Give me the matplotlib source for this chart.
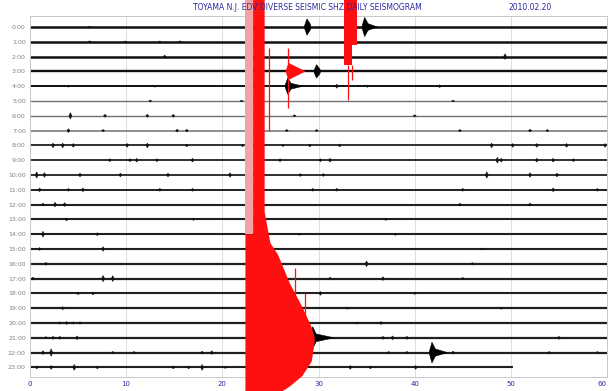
import matplotlib
matplotlib.use("Agg")
import matplotlib.pyplot as plt

# --- helicorder rows (one per hour) ---
hours = list(range(24))
row_labels = [f"{h}:00" for h in hours]
row_end = [60] * 23 + [50.2]
row_lw = [1.8, 1.8, 1.8, 1.7, 1.4, 1.0, 1.0, 1.1, 1.3, 1.3, 1.3, 1.4,
          1.5, 1.5, 1.5, 1.5, 1.6, 1.6, 1.5, 1.6, 1.6, 1.6, 1.6, 1.5]
row_color = ["#101010"] * 5 + ["#707070"] * 3 + ["#202020"] * 16

# small noise blips: row, minute, amplitude (in row units)
blip_row = ([0] * 1 + [1] * 4 + [2] * 2 + [4] * 5 + [5] * 3 + [6] * 6 + [7] * 9 + [8] * 15
            + [9] * 13 + [10] * 11 + [11] * 10 + [12] * 5 + [13] * 3 + [14] * 4 + [15] * 3
            + [16] * 3 + [17] * 6 + [18] * 4 + [19] * 3 + [20] * 6 + [21] * 8 + [22] * 11
            + [23] * 11)
blip_min = [6.2,
            6.2, 13.5, 15.6, 9.9,
            14.0, 49.4,
            31.9, 35.1, 42.6, 4.0, 13.0,
            12.5, 22.0, 44.0,
            4.2, 7.8, 12.2, 14.9, 27.5, 40.0,
            4.0, 7.6, 15.3, 16.3, 26.7, 29.8, 44.7, 52.0, 53.8,
            2.4, 3.4, 4.5, 10.1, 12.2, 16.3, 22.1, 26.3, 29.1, 32.2, 48.0, 50.2, 52.7, 55.8, 59.8,
            8.3, 10.4, 11.1, 13.2, 16.9, 26.0, 30.2, 31.2, 48.6, 49.0, 52.7, 54.4, 56.5,
            0.7, 1.5, 5.2, 9.4, 14.35, 20.8, 28.1, 30.5, 47.5, 52.0, 54.8,
            1.0, 4.0, 5.5, 13.5, 16.9, 29.4, 31.9, 45.0, 54.4, 59.0,
            1.35, 2.6, 3.6, 44.7, 52.0,
            3.8, 17.0, 37.0,
            1.35, 7.0, 28.0, 38.0,
            1.0, 7.6, 47.0,
            1.65, 35.0, 46.0,
            0.3, 7.6, 8.6, 31.2, 36.7, 45.0,
            5.0, 6.55, 30.2, 40.0,
            3.4, 33.0, 49.0,
            3.1, 3.8, 4.5, 5.2, 34.0, 36.5,
            1.65, 2.4, 3.1, 4.9, 36.7, 37.7, 39.2, 55.0,
            1.35, 2.2, 8.6, 10.8, 17.9, 18.9, 37.3, 39.2, 44.0, 54.0, 59.0,
            0.7, 2.2, 4.6, 7.0, 14.9, 16.5, 17.9, 20.3, 33.3, 35.4, 40.1]
blip_amp = [0.06,
            0.07, 0.06, 0.07, 0.06,
            0.1, 0.2,
            0.14, 0.08, 0.1, 0.07, 0.07,
            0.07, 0.06, 0.06,
            0.22, 0.1, 0.1, 0.1, 0.07, 0.07,
            0.13, 0.08, 0.1, 0.1, 0.08, 0.08, 0.08, 0.1, 0.08,
            0.16, 0.16, 0.13, 0.13, 0.16, 0.1, 0.1, 0.08, 0.1, 0.1, 0.16, 0.13, 0.13, 0.13, 0.13,
            0.1, 0.1, 0.13, 0.1, 0.13, 0.1, 0.1, 0.13, 0.2, 0.13, 0.13, 0.13, 0.1,
            0.22, 0.16, 0.13, 0.13, 0.13, 0.16, 0.1, 0.1, 0.22, 0.16, 0.13,
            0.13, 0.1, 0.13, 0.1, 0.1, 0.1, 0.1, 0.1, 0.13, 0.1,
            0.1, 0.16, 0.13, 0.1, 0.1,
            0.1, 0.07, 0.07,
            0.2, 0.1, 0.07, 0.08,
            0.1, 0.16, 0.07,
            0.1, 0.2, 0.08,
            0.1, 0.22, 0.2, 0.1, 0.13, 0.08,
            0.08, 0.1, 0.13, 0.07,
            0.1, 0.07, 0.07,
            0.08, 0.1, 0.08, 0.08, 0.07, 0.1,
            0.08, 0.1, 0.1, 0.13, 0.1, 0.13, 0.1, 0.1,
            0.13, 0.26, 0.08, 0.08, 0.1, 0.13, 0.08, 0.08, 0.1, 0.08, 0.08,
            0.1, 0.13, 0.2, 0.1, 0.1, 0.1, 0.2, 0.07, 0.13, 0.1, 0.13]

# local events recorded in black: row, onset minute, amplitude, coda length (min)
event_row = [0, 0, 3, 4, 21, 22]
event_min = [28.8, 34.8, 29.8, 26.8, 29.4, 41.8]
event_amp = [0.55, 0.65, 0.45, 0.55, 0.75, 0.7]
event_coda = [0.4, 1.3, 0.4, 1.6, 2.2, 1.6]

# large quake drawn in red (envelope in row units, clipped by the page only)
quake_min = [22.4, 23.2, 23.2, 24.4, 24.4, 25.0, 25.8, 27.0, 28.3, 29.3, 29.6]
quake_top = [14.0, 14.0, -2.0, -2.0, 12.5, 14.6, 15.4, 17.3, 18.9, 20.3, 21.0]
quake_bot = [24.8, 24.8, 24.8, 24.8, 24.8, 24.8, 24.8, 24.3, 23.6, 22.6, 21.3]
pink_min = [22.4, 23.2]
pink_top = [-2.0, -2.0]
pink_bot = [14.0, 14.0]

# second red burst near the top right
burst_min = [32.7, 33.5, 33.5, 34.0]
burst_top = [-2.0, -2.0, -2.0, -2.0]
burst_bot = [2.6, 2.6, 1.2, 1.2]

# thin red spikes: minute, top row, bottom row
spike_min = [24.9, 26.8, 33.1, 33.5, 27.6, 28.6]
spike_top = [1.4, 1.4, 2.6, 2.6, 16.3, 18.0]
spike_bot = [7.0, 5.5, 4.9, 3.6, 19.6, 21.5]

# red coda on row 3
coda_row = 3
coda_min = [26.6, 26.9, 28.6]
coda_amp = [0.0, 0.55, 0.0]

title = "TOYAMA N.J. EDV DIVERSE SEISMIC SHZ DAILY SEISMOGRAM"
date_text = "2010.02.20"

RED = "#ff1010"
BLUE = "#2a2aa0"

fig = plt.figure(figsize=(6.09, 3.91), dpi=100)
ax = fig.add_axes([30 / 609, 1 - 377 / 391, 577 / 609, 361 / 391])
ax.set_xlim(0, 60)
ax.set_ylim((377 - 27) / 14.8, (16 - 27) / 14.8)

for m in range(10, 60, 10):
    ax.axvline(m, color="#d8d8d8", lw=0.6, zorder=0)

for r in hours:
    ax.plot([0, row_end[r]], [r, r], color=row_color[r], lw=row_lw[r],
            solid_capstyle="butt", zorder=2)

# noise blips as small diamonds
for r, m, a in zip(blip_row, blip_min, blip_amp):
    w = 0.16
    ax.fill([m - w, m, m + w, m], [r, r - a, r, r + a], color="#111111", lw=0.3, zorder=3)

for r, m, a, c in zip(event_row, event_min, event_amp, event_coda):
    xs = [m - 0.3, m, m + 0.35, m + c, m + 0.35, m]
    ys = [r, r - a, r - a * 0.35, r, r + a * 0.35, r + a]
    ax.fill(xs, ys, color="black", lw=0.4, zorder=4)

# red traces, not clipped to the axes
ax.fill_between(pink_min, pink_top, pink_bot, color="#f3a3a3", lw=0, zorder=5, clip_on=False)
ax.fill_between(quake_min, quake_top, quake_bot, color=RED, lw=0, zorder=5, clip_on=False)
ax.fill_between(burst_min, burst_top, burst_bot, color=RED, lw=0, zorder=5, clip_on=False)
ax.vlines(spike_min, spike_top, spike_bot, color=RED, lw=0.9, zorder=5, clip_on=False)
ax.fill(coda_min + coda_min[::-1][1:],
        [coda_row - a for a in coda_amp] + [coda_row + a for a in coda_amp[::-1][1:]],
        color=RED, lw=0.4, zorder=5)

ax.set_xticks(range(0, 61, 10))
ax.set_xticklabels([str(v) for v in range(0, 61, 10)], color=BLUE, fontsize=5)
ax.get_xticklabels()[-1].set_ha("right")
ax.set_yticks(hours)
ax.set_yticklabels(row_labels, color="#808080", fontsize=4.5)
ax.tick_params(length=0, pad=3)
for s in ax.spines.values():
    s.set_color("#c8c8c8")
    s.set_linewidth(0.7)

fig.text(307 / 609, 1 - 8 / 391, title, color=BLUE, fontsize=5.5, ha="center", va="center")
fig.text(530 / 609, 1 - 8 / 391, date_text, color=BLUE, fontsize=5.5, ha="center", va="center")

fig.savefig("out.png", dpi=100)
